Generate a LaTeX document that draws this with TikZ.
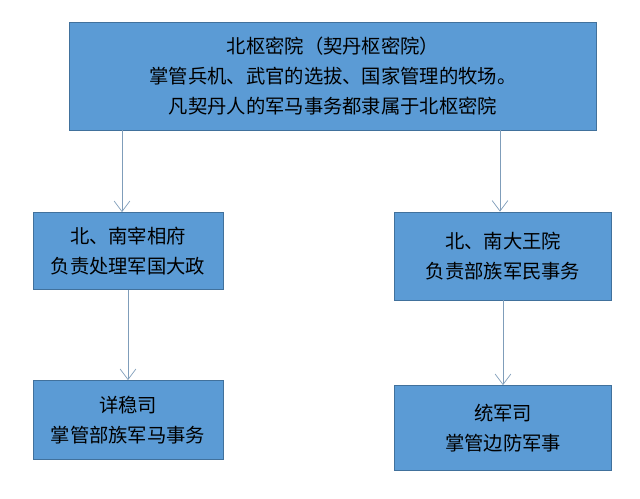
\documentclass[tikz,border=0pt]{standalone}
\usepackage{fontspec}
\setmainfont{Noto Sans CJK SC}
\usetikzlibrary{arrows.meta}
\definecolor{boxblue}{HTML}{5B9BD5}
\definecolor{boxline}{HTML}{41719C}
\definecolor{arrowgray}{HTML}{7F9DBA}

\begin{document}
\begin{tikzpicture}[x=0.02cm,y=-0.02cm,
	unit/.style={draw=boxline, fill=boxblue, align=center, font=\fontsize{11}{17}\selectfont, inner sep=0pt},
	link/.style={draw=arrowgray, -{Straight Barb[length=6pt,width=9pt]}}
]
\useasboundingbox (0,0) rectangle (640,498);

\node[unit, minimum width=10.54cm, minimum height=2.16cm] (top) at (333,76)
	{北枢密院（契丹枢密院）\\掌管兵机、武官的选拔、国家管理的牧场。\\凡契丹人的军马事务都隶属于北枢密院};

\node[unit, minimum width=3.8cm, minimum height=1.54cm] (zai) at (128,251)
	{北、南宰相府\\负责处理军国大政};
\node[unit, minimum width=4.34cm, minimum height=1.76cm] (wang) at (503,256)
	{北、南大王院\\负责部族军民事务};

\node[unit, minimum width=3.8cm, minimum height=1.58cm] (xiang) at (128,420)
	{详稳司\\掌管部族军马事务};
\node[unit, minimum width=4.34cm, minimum height=1.7cm] (tong) at (503,428)
	{统军司\\掌管边防军事};

% connectors
\draw[link] (top.south -| 122,0) -- (zai.north -| 122,0);
\draw[link] (top.south -| 500,0) -- (wang.north -| 500,0);
\draw[link] (zai) -- (xiang);
\draw[link] (wang) -- (tong);
\end{tikzpicture}
\end{document}
